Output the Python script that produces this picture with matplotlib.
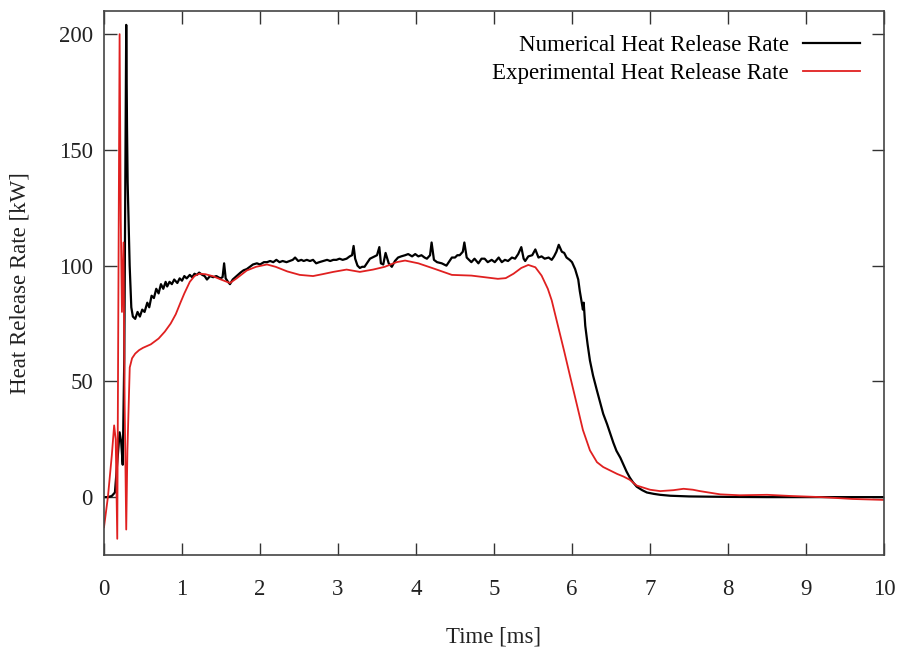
import matplotlib
matplotlib.use("Agg")
import matplotlib.pyplot as plt

# Numerical heat release rate (black)
num_t = [0, 0.05, 0.1, 0.14, 0.17, 0.2, 0.22, 0.24, 0.26, 0.285,
         0.295, 0.303, 0.316, 0.329, 0.338, 0.35, 0.37, 0.40, 0.43, 0.46,
         0.49, 0.52, 0.555, 0.58, 0.61, 0.64, 0.67, 0.70, 0.73, 0.76,
         0.79, 0.81, 0.84, 0.87, 0.90, 0.94, 0.97, 1.0, 1.03, 1.06,
         1.10, 1.13, 1.16, 1.19, 1.22, 1.26, 1.29, 1.32, 1.36, 1.40,
         1.44, 1.49, 1.52, 1.54, 1.56, 1.59, 1.615, 1.65, 1.70, 1.75,
         1.79, 1.83, 1.87, 1.91, 1.96, 2.0, 2.05, 2.09, 2.13, 2.17,
         2.21, 2.25, 2.29, 2.34, 2.38, 2.42, 2.45, 2.49, 2.53, 2.56,
         2.60, 2.64, 2.68, 2.72, 2.76, 2.81, 2.86, 2.90, 2.94, 2.98,
         3.02, 3.06, 3.11, 3.15, 3.18, 3.20, 3.22, 3.25, 3.28, 3.31,
         3.34, 3.38, 3.41, 3.44, 3.47, 3.50, 3.53, 3.55, 3.58, 3.61,
         3.65, 3.69, 3.73, 3.77, 3.81, 3.86, 3.90, 3.95, 3.99, 4.03,
         4.07, 4.11, 4.14, 4.18, 4.20, 4.23, 4.27, 4.33, 4.39, 4.43,
         4.46, 4.50, 4.53, 4.56, 4.60, 4.62, 4.65, 4.68, 4.71, 4.75,
         4.80, 4.84, 4.88, 4.92, 4.97, 5.01, 5.06, 5.10, 5.14, 5.18,
         5.23, 5.27, 5.31, 5.35, 5.38, 5.40, 5.44, 5.49, 5.53, 5.57,
         5.61, 5.65, 5.70, 5.74, 5.77, 5.80, 5.83, 5.87, 5.90, 5.93,
         5.97, 6.00, 6.04, 6.08, 6.10, 6.12, 6.14, 6.15, 6.17, 6.20,
         6.23, 6.27, 6.32, 6.36, 6.40, 6.45, 6.49, 6.53, 6.57, 6.62,
         6.66, 6.70, 6.74, 6.78, 6.83, 6.90, 6.96, 7.05, 7.13, 7.26,
         7.5, 8.0, 8.5, 9.0, 9.5, 10.0]
num_v = [0, 0, 0.5, 2, 15, 28, 24, 14, 60, 204,
         160, 136, 118, 100, 92, 82, 78, 77, 80, 78,
         81, 80, 84, 82, 87, 86, 90, 88, 92, 90,
         93, 91, 93, 92, 94, 92.5, 94.5, 93.5, 95.5, 94.5,
         96, 95, 96.5, 96, 97, 96, 95.5, 94, 95.5, 95,
         95.5, 94.5, 95, 101, 94.5, 93, 92, 94, 95.5, 97,
         98, 98.5, 99.5, 100.5, 101, 100.5, 101.5, 101.5, 102, 101.5,
         102.5, 101.5, 102, 101.5, 102, 102.5, 103.5, 102, 102.5, 102,
         102.5, 102, 102.5, 101, 101.5, 102, 102.5, 102, 102.5, 102.5,
         103, 102.5, 103, 104, 104.5, 108.5, 103, 100, 99, 99.5,
         99.5, 101.5, 103, 103.5, 104, 104.5, 108, 101, 100.5, 105.5,
         101, 99.5, 102, 103.5, 104, 104.5, 105, 104, 105, 104,
         104.5, 103.5, 103, 104.5, 110, 102.5, 101.5, 101, 100, 102,
         103.5, 103.5, 104.5, 104.5, 106, 110, 103.5, 102.5, 101.5, 103,
         101, 103, 103, 101.5, 102.5, 101.5, 103.5, 101.5, 102.5, 102,
         103.5, 103, 105, 108, 103, 102, 104, 104.5, 107, 103.5,
         104, 103, 103.5, 102.5, 104, 106, 109, 106, 105.5, 103.5,
         102.5, 101.5, 98.5, 94, 89, 85, 81, 84, 74, 66,
         59, 52.5, 46, 41, 36, 31.5, 27.5, 23.5, 20, 17,
         14, 11, 8.5, 6.5, 4.5, 3, 2, 1.4, 1, 0.6,
         0.3, 0.1, 0, 0, 0, 0]

# Experimental heat release rate (red)
exp_t = [0, 0.05, 0.1, 0.13, 0.15, 0.17, 0.2, 0.215, 0.23, 0.25,
         0.265, 0.285, 0.3, 0.33, 0.36, 0.4, 0.45, 0.5, 0.6, 0.7,
         0.78, 0.855, 0.92, 0.98, 1.03, 1.1, 1.16, 1.22, 1.3, 1.4,
         1.5, 1.615, 1.7, 1.83, 1.95, 2.09, 2.2, 2.35, 2.51, 2.68,
         2.8, 2.94, 3.11, 3.28, 3.45, 3.6, 3.75, 3.86, 4.03, 4.24,
         4.46, 4.71, 4.88, 5.05, 5.15, 5.25, 5.35, 5.44, 5.53, 5.61,
         5.69, 5.74, 5.82, 5.9, 5.97, 6.06, 6.14, 6.23, 6.32, 6.4,
         6.49, 6.58, 6.66, 6.74, 6.83, 7.0, 7.13, 7.3, 7.43, 7.55,
         7.64, 7.9, 8.15, 8.5, 8.8, 9.2, 9.6, 10.0]
exp_v = [-13, 0, 18, 31, 25, -18, 200, 120, 80, 110,
         40, -14, 20, 56, 60, 62, 63.5, 64.5, 66, 68.5,
         71.5, 75, 79, 84, 88, 93, 95.5, 96.5, 96.3, 95.4,
         94, 92.5, 94.5, 97.9, 99.5, 100.5, 99.5, 97.5, 96, 95.5,
         96.3, 97.3, 98.3, 97.3, 98.3, 99.5, 101.5, 102.2, 101, 98.6,
         96, 95.7, 95, 94.3, 94.6, 96.5, 99, 100.3, 99.3, 95.7,
         90, 85, 74, 63, 53, 40.3, 29, 20.2, 15.1, 13,
         11.5, 10, 8.9, 7.5, 5, 3.2, 2.6, 3, 3.6, 3.2,
         2.6, 1.2, 0.8, 1, 0.5, 0, -0.8, -1.2]

x_ticks = [0, 1, 2, 3, 4, 5, 6, 7, 8, 9, 10]
y_ticks = [0, 50, 100, 150, 200]

plt.rcParams['font.family'] = ['Liberation Serif', 'DejaVu Serif']
plt.rcParams['font.size'] = 16.5

fig = plt.figure(figsize=(8.99, 6.47), dpi=100)
ax = fig.add_axes([104 / 899, 92 / 647, 780 / 899, 544 / 647])

ax.plot(num_t, num_v, color='black', lw=1.6, label='Numerical Heat Release Rate')
ax.plot(exp_t, exp_v, color='#e02020', lw=1.3, label='Experimental Heat Release Rate')

ax.set_xlim(0, 10)
ax.set_ylim(-25, 210)
ax.set_xticks(x_ticks)
ax.set_yticks(y_ticks)
ax.tick_params(direction='in', length=9, width=1, top=True, right=True, colors='#333333',
               labelcolor='#222222')
ax.tick_params(axis='x', pad=17)
ax.tick_params(axis='y', pad=8)
for s in ax.spines.values():
    s.set_color('#444444')
    s.set_linewidth(1.2)

ax.set_xlabel('Time [ms]', labelpad=19, color='#222222')
ax.set_ylabel('Heat Release Rate [kW]', labelpad=20, color='#222222')

leg = ax.legend(loc='upper right', bbox_to_anchor=(0.99, 0.985), frameon=False,
                markerfirst=False, handlelength=2.5, handletextpad=0.6,
                labelspacing=0.3, borderaxespad=0.3)
for t in leg.get_texts():
    t.set_ha('right')

fig.savefig('out.png', dpi=100)
